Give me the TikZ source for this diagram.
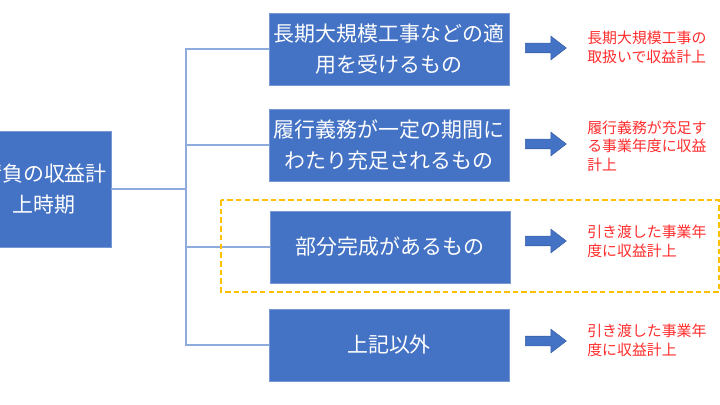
\documentclass[tikz,border=0pt]{standalone}
\usepackage{fontspec}
\newfontfamily\jpfont{Noto Sans CJK JP}
\usetikzlibrary{shapes.arrows}
\definecolor{boxblue}{RGB}{68,114,196}
\definecolor{boxedge}{RGB}{120,152,212}
\definecolor{linkblue}{RGB}{143,170,220}
\definecolor{hiliteorange}{RGB}{255,192,0}
\definecolor{notered}{RGB}{255,45,45}
\newcommand{\pxl}{0.025cm}
\tikzset{
  casebox/.style={draw=boxedge, fill=boxblue, text=white, font=\jpfont\fontsize{14.9}{22}\selectfont,
    align=center, minimum width=240*\pxl, minimum height=72*\pxl, inner sep=0pt, line width=0.5pt},
  notetext/.style={text=notered, font=\jpfont\fontsize{10.6}{13.3}\selectfont, align=left,
    anchor=west, inner sep=0pt},
  bigarrow/.style={single arrow, draw=boxblue!85!black, fill=boxblue, line width=0.4pt,
    minimum height=41*\pxl, minimum width=23*\pxl, inner xsep=0pt, inner ysep=4.5*\pxl,
    single arrow head extend=7*\pxl, single arrow tip angle=75, anchor=west},
  link/.style={draw=linkblue, line width=0.8pt},
  hilite/.style={draw=hiliteorange, line width=1.1pt, dash pattern=on 4pt off 2.2pt}
}

\begin{document}
\begin{tikzpicture}[x=\pxl, y=-\pxl]
	\useasboundingbox (0,0) rectangle (720,405);
	\clip (0,0) rectangle (720,405);
	
	% left box and the four cases
	\node[casebox, minimum width=134*\pxl, minimum height=116*\pxl] (root) at (44,189) {請負の収益計\\上時期};
	\node[casebox] (case1) at (389,49) {長期大規模工事などの適\\用を受けるもの};
	\node[casebox] (case2) at (389,145) {履行義務が一定の期間に\\わたり充足されるもの};
	\node[casebox] (case3) at (390,247) {部分完成があるもの};
	\node[casebox] (case4) at (389,345) {上記以外};
	
	% tree lines
	\coordinate (trunk) at (186,189);
	\draw[link] (root.east) -- (trunk);
	\draw[link] (case1.west) -- (case1.west -| trunk) -- (case4.west -| trunk) -- (case4.west);
	\draw[link] (case2.west) -- (case2.west -| trunk);
	\draw[link] (case3.west) -- (case3.west -| trunk);
	
	% highlight round the third case
	\draw[hilite] (221,200) rectangle (719,292);
	
	% arrows and notes
	\node[bigarrow] (arr1) at (525,48) {};
	\node[bigarrow] (arr2) at (525,144) {};
	\node[bigarrow] (arr3) at (525,241) {};
	\node[bigarrow] (arr4) at (525,341) {};
	
	\node[notetext] (note1) at (587,47) {長期大規模工事の\\取扱いで収益計上};
	\node[notetext] (note2) at (587,146) {履行義務が充足す\\る事業年度に収益\\計上};
	\node[notetext] (note3) at (587,241.5) {引き渡した事業年\\度に収益計上};
	\node[notetext] (note4) at (587,340) {引き渡した事業年\\度に収益計上};
\end{tikzpicture}
\end{document}
